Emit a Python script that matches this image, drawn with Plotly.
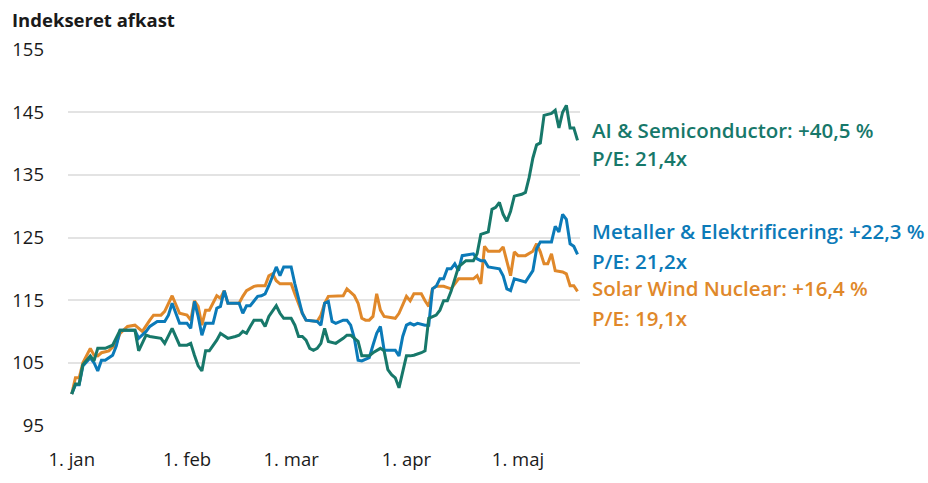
import pandas as pd
import plotly.graph_objects as go

START = pd.Timestamp("2025-01-01")

# day offsets from 1 Jan and index values
ai_days = [0, 1, 2, 3, 5, 6, 7, 9, 11, 13, 17, 18, 20, 21, 24, 25, 27, 29, 31, 32, 33, 34, 35, 36, 37, 38,
           39, 40, 42, 44, 45, 46, 47, 48, 49, 51, 52, 53, 55, 56, 57, 59, 60, 61, 62, 63, 64, 65, 66, 67,
           68, 69, 71, 73, 74, 75, 77, 78, 80, 81, 83, 84, 85, 86, 87, 88, 89, 90, 91, 92, 94, 95, 96, 98,
           99, 100, 101, 102, 104, 106, 108, 109, 110, 112, 113, 114, 115, 116, 117, 118, 119, 121, 122,
           123, 124, 125, 126, 127, 129, 130, 131, 132, 133, 134, 135, 136]
ai_vals = [100.0, 101.6, 101.6, 104.7, 106.1, 105.3, 107.3, 107.3, 107.8, 110.2, 110.2, 106.9, 109.4, 109.2,
           108.9, 108.1, 110.5, 107.8, 107.8, 108.1, 106.2, 104.5, 103.7, 106.9, 106.9, 107.7, 108.6, 109.7,
           108.9, 109.2, 109.4, 110.0, 109.7, 110.8, 111.8, 111.8, 110.8, 112.4, 114.1, 112.9, 112.1, 112.1,
           111.0, 109.2, 109.2, 108.6, 107.3, 107.0, 107.3, 108.1, 110.5, 108.4, 108.1, 108.9, 109.4, 109.4,
           108.4, 106.1, 106.1, 106.6, 107.3, 106.9, 103.9, 103.1, 102.6, 101.0, 103.7, 106.1, 106.1, 106.2,
           106.6, 106.9, 112.1, 112.6, 113.4, 114.9, 114.9, 116.4, 120.3, 121.3, 121.3, 122.4, 125.5, 125.9,
           129.5, 129.8, 130.6, 128.7, 127.6, 129.2, 131.6, 131.9, 132.2, 134.6, 137.7, 139.8, 140.1, 144.5,
           144.8, 145.3, 142.5, 145.0, 146.1, 142.5, 142.5, 140.5]

met_days = [0, 1, 2, 3, 5, 6, 7, 8, 9, 11, 12, 13, 17, 18, 20, 21, 23, 25, 26, 27, 29, 31, 32, 33, 34, 35,
            36, 38, 39, 40, 41, 42, 45, 46, 47, 48, 50, 51, 52, 53, 55, 56, 57, 59, 60, 61, 62, 63, 66, 67,
            68, 69, 70, 71, 73, 74, 75, 76, 77, 78, 80, 81, 82, 83, 84, 85, 87, 88, 89, 90, 91, 92, 93, 95,
            96, 97, 98, 99, 100, 101, 102, 103, 104, 105, 108, 109, 110, 111, 112, 115, 116, 117, 118, 119,
            121, 122, 124, 125, 126, 129, 130, 131, 132, 133, 134, 135, 136]
met_vals = [100.0, 101.5, 101.5, 104.5, 105.8, 105.0, 103.7, 105.4, 105.4, 106.2, 107.7, 110.2, 110.2,
            108.9, 110.0, 110.8, 111.6, 111.6, 112.6, 114.5, 111.3, 111.3, 110.5, 114.8, 112.4, 109.4, 111.3,
            111.3, 113.7, 114.0, 116.5, 114.5, 114.5, 112.9, 114.1, 114.1, 115.6, 115.7, 116.0, 117.3, 120.3,
            118.9, 120.3, 120.3, 117.6, 115.0, 112.9, 111.8, 111.6, 111.0, 114.5, 114.8, 111.6, 111.3, 111.8,
            111.8, 111.0, 108.9, 105.4, 105.3, 105.8, 107.8, 109.7, 110.8, 107.0, 107.0, 107.0, 106.1, 109.2,
            111.0, 111.3, 111.0, 111.3, 111.0, 111.0, 116.8, 117.2, 118.4, 118.4, 120.0, 120.0, 120.8, 119.7,
            122.1, 122.4, 121.6, 121.3, 121.3, 120.3, 120.0, 118.9, 116.8, 116.5, 118.4, 118.1, 117.9, 119.7,
            123.2, 124.3, 124.3, 126.8, 125.9, 128.7, 127.9, 124.0, 123.6, 122.3]

sol_days = [0, 1, 2, 3, 5, 6, 7, 8, 10, 12, 13, 15, 17, 19, 21, 22, 24, 25, 27, 29, 31, 32, 33, 34, 35, 36,
            37, 39, 40, 41, 42, 45, 46, 47, 49, 50, 52, 53, 54, 55, 56, 59, 60, 61, 62, 63, 66, 67, 68, 69,
            71, 73, 74, 76, 77, 78, 79, 80, 81, 82, 83, 84, 87, 88, 90, 91, 92, 94, 95, 96, 97, 98, 100, 102,
            103, 104, 108, 109, 110, 111, 112, 115, 116, 117, 118, 119, 120, 122, 124, 125, 126, 127, 128,
            129, 130, 132, 133, 134, 135, 136]
sol_vals = [100.0, 102.6, 102.6, 105.0, 107.3, 106.2, 106.1, 106.6, 106.9, 108.1, 109.7, 110.8, 111.0,
            110.0, 111.8, 112.6, 112.6, 113.2, 115.7, 112.9, 112.6, 111.8, 114.9, 114.0, 111.0, 113.4, 113.4,
            115.7, 115.3, 116.5, 114.5, 114.5, 115.6, 116.5, 117.2, 117.3, 117.3, 118.9, 119.2, 118.1, 117.6,
            117.6, 116.0, 114.5, 112.9, 111.8, 111.6, 112.6, 114.5, 115.6, 115.7, 115.7, 116.8, 115.7, 114.5,
            112.1, 111.8, 111.8, 112.4, 116.0, 113.4, 112.4, 112.1, 112.9, 115.6, 114.9, 116.0, 116.0, 114.9,
            114.0, 116.8, 117.2, 117.2, 116.8, 117.6, 118.4, 118.4, 118.9, 117.6, 123.6, 122.8, 122.8, 123.5,
            121.3, 118.9, 122.7, 122.1, 122.1, 122.8, 124.0, 122.7, 120.8, 120.8, 122.4, 119.7, 119.5, 119.2,
            117.3, 117.3, 116.4]

series_names = ["AI & Semiconductor", "Metaller & Elektrificering", "Solar Wind Nuclear"]
series_returns = ["+40,5 %", "+22,3 %", "+16,4 %"]
series_pe = ["21,4x", "21,2x", "19,1x"]
series_colors = ["#17786a", "#0b7ab8", "#e0882a"]
label_y = [142.2, 126.0, 117.0]
pe_y = [137.7, 121.3, 112.2]

month_ticks = ["2025-01-01", "2025-02-01", "2025-03-01", "2025-04-01", "2025-05-01"]
month_labels = ["1. jan", "1. feb", "1. mar", "1. apr", "1. maj"]
y_ticks = [95, 105, 115, 125, 135, 145, 155]

FONT = "Open Sans"

fig = go.Figure()
all_data = [(ai_days, ai_vals), (met_days, met_vals), (sol_days, sol_vals)]
for i in [2, 1, 0]:
    d, v = all_data[i]
    fig.add_trace(go.Scatter(
        x=[START + pd.Timedelta(days=k) for k in d], y=v, mode="lines",
        line=dict(color=series_colors[i], width=3), name=series_names[i],
        hoverinfo="skip", showlegend=False))

for i in range(3):
    fig.add_annotation(x=1, xref="x domain", xanchor="left", xshift=10, y=label_y[i], yref="y",
                       text=f"{series_names[i]}: {series_returns[i]}", showarrow=False,
                       font=dict(family=FONT, size=20.5, color=series_colors[i], weight=600))
    fig.add_annotation(x=1, xref="x domain", xanchor="left", xshift=10, y=pe_y[i], yref="y",
                       text=f"P/E: {series_pe[i]}", showarrow=False,
                       font=dict(family=FONT, size=20.5, color=series_colors[i], weight=600))

fig.update_layout(
    width=928, height=483,
    margin=dict(l=68, r=348, t=49, b=55),
    paper_bgcolor="white", plot_bgcolor="white",
    font=dict(family=FONT, size=18.5, color="#1a1a1a"),
    title=dict(text="<b>Indekseret afkast</b>", x=12 / 928, xanchor="left", xref="container",
               y=1 - 21 / 483, yanchor="middle", yref="container",
               font=dict(family=FONT, size=18.5, color="#1a1a1a")),
    xaxis=dict(type="date", range=["2024-12-31", "2025-05-17 16:00"], tickvals=month_ticks,
               ticktext=month_labels, showgrid=False, zeroline=False, showline=False, ticks="",
               ticklabelstandoff=20, tickfont=dict(size=18.5)),
    yaxis=dict(range=[94.9, 155.1], tickvals=y_ticks, showgrid=True, gridcolor="#e3e3e3", gridwidth=1.5,
               zeroline=False, showline=False, ticks="", ticklabelstandoff=23, tickfont=dict(size=18.5)),
)

fig.write_html("out.html")
